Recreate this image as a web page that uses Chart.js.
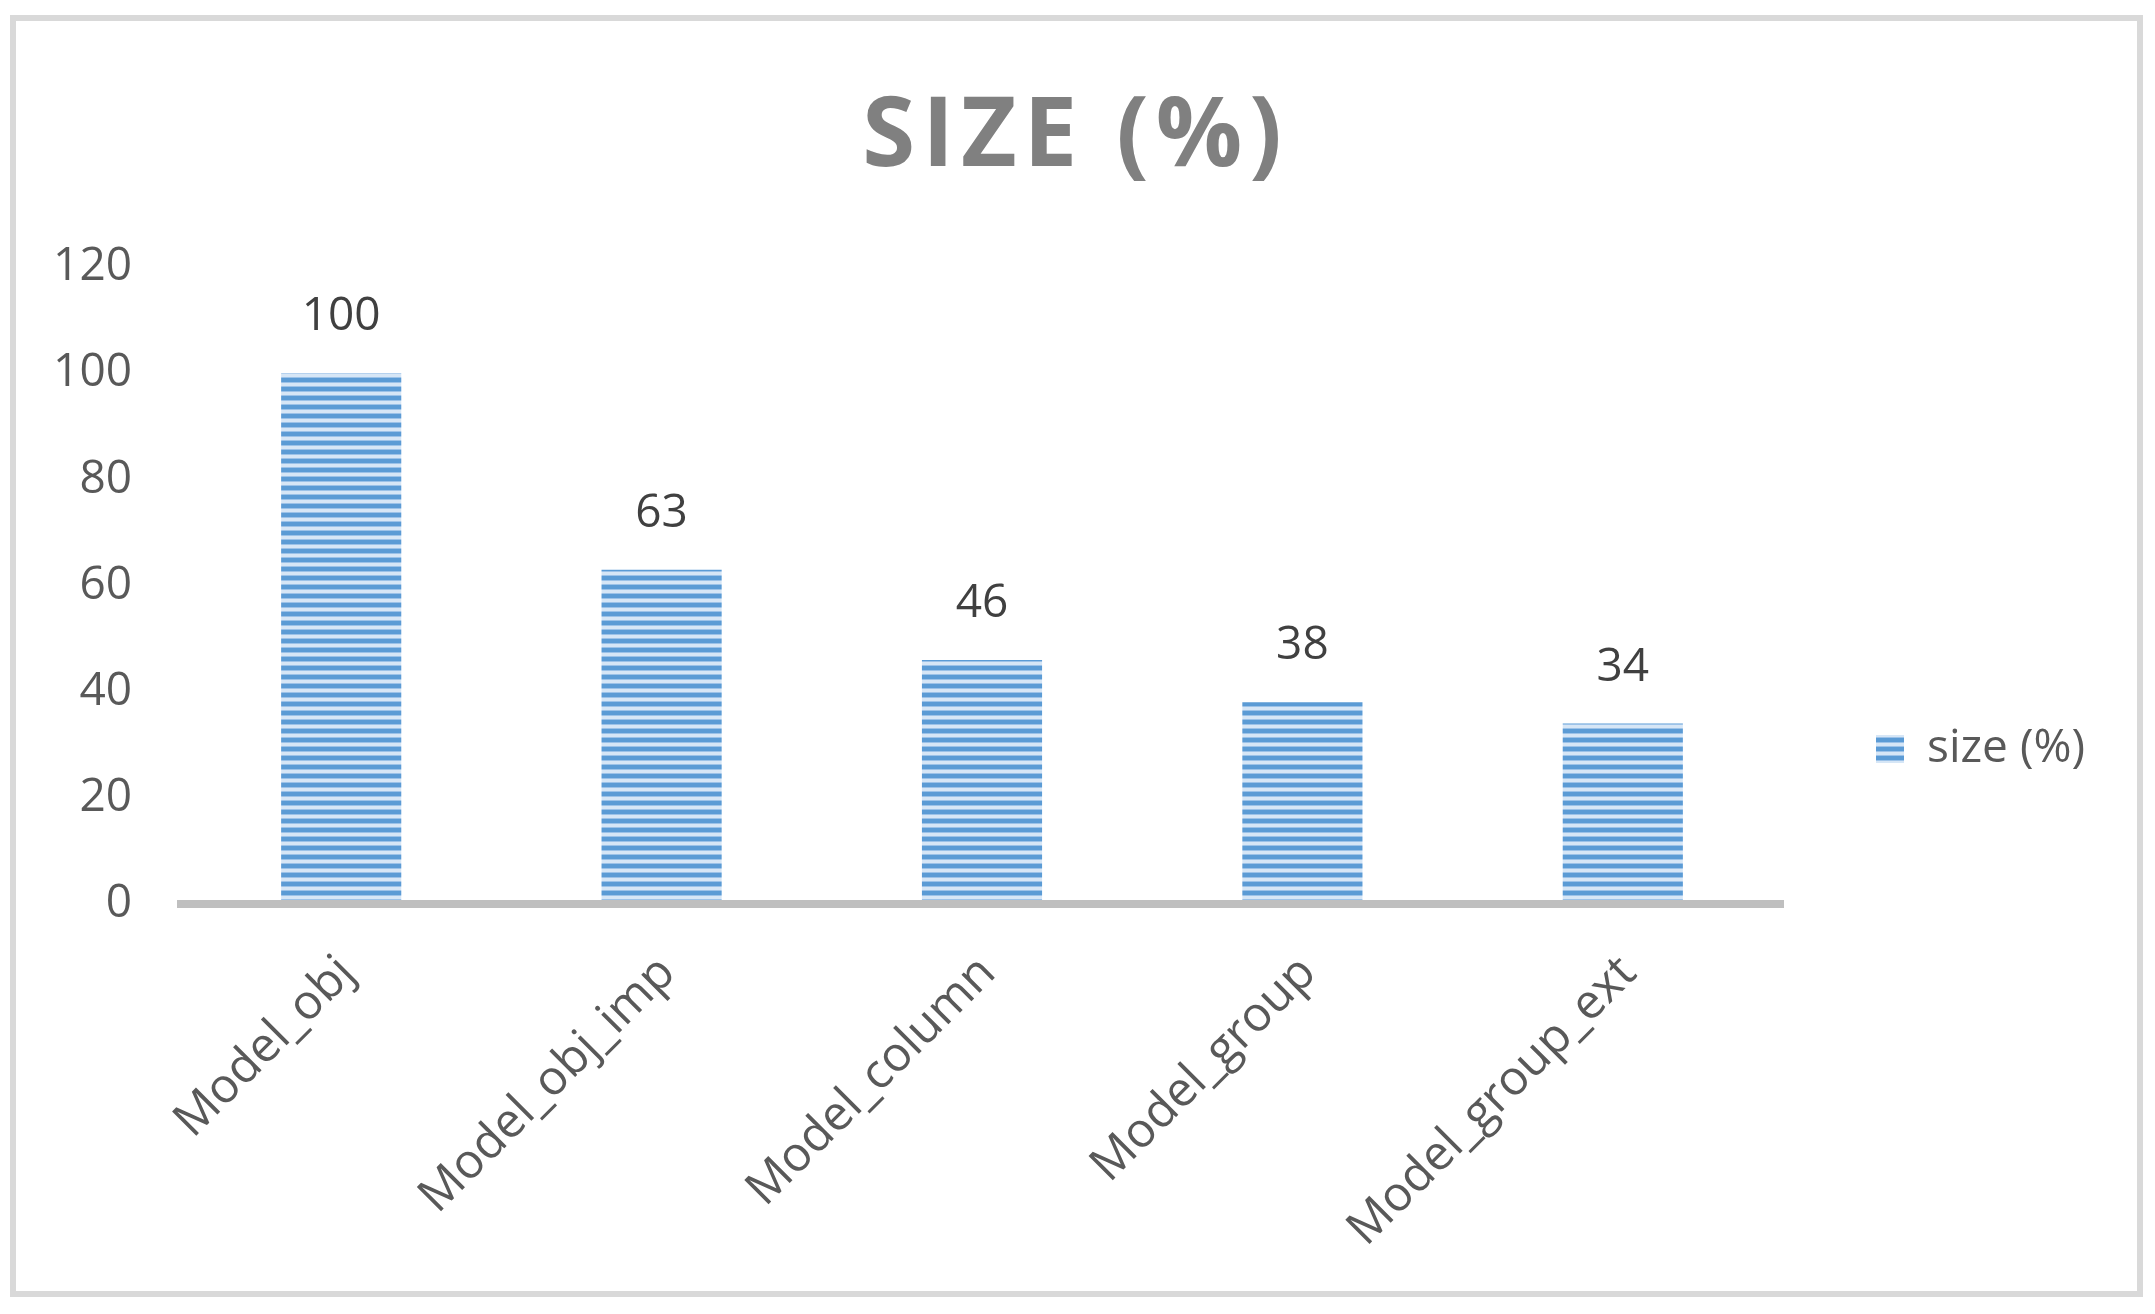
<!DOCTYPE html>
<html><head><meta charset="utf-8">
<script src="https://cdn.jsdelivr.net/npm/chart.js@4/dist/chart.umd.min.js"></script>
<style>
html,body{margin:0;padding:0;background:#fff;}
#wrap{position:relative;width:2155px;height:1314px;overflow:hidden;background:#fff;}
#frame{position:absolute;left:10px;top:15px;width:2121px;height:1270px;border:6px solid #d9d9d9;pointer-events:none;}
canvas{position:absolute;left:0;top:0;}
</style></head><body>
<div id="wrap"><canvas id="c" width="2155" height="1314"></canvas><div id="frame"></div></div>
<script>
const categories = ['Model_obj', 'Model_obj_imp', 'Model_column', 'Model_group', 'Model_group_ext'];
const sizeValues = [100, 63, 46, 38, 34];
const seriesLabel = 'size (%)';
const chartTitle = 'SIZE (%)';
const yTicks = [0, 20, 40, 60, 80, 100, 120];

const FONT = "'Open Sans', 'DejaVu Sans', sans-serif";
Chart.defaults.font.family = FONT;

const canvas = document.getElementById('c');
const ctx0 = canvas.getContext('2d');

function stripePattern() {
  const p = document.createElement('canvas');
  p.width = 8; p.height = 9;
  const g = p.getContext('2d');
  g.fillStyle = '#5b9bd5'; g.fillRect(0, 0, 8, 9);
  g.fillStyle = '#9cc2e8'; g.fillRect(0, 4, 8, 1); g.fillRect(0, 8, 8, 1);
  g.fillStyle = '#d6e6f6'; g.fillRect(0, 5, 8, 3);
  return ctx0.createPattern(p, 'repeat');
}
const pattern = stripePattern();

const valueLabels = {
  id: 'valueLabels',
  afterDatasetsDraw(chart) {
    const ctx = chart.ctx;
    const meta = chart.getDatasetMeta(0);
    ctx.save();
    ctx.font = "46px " + FONT;
    ctx.fillStyle = '#404040';
    ctx.textAlign = 'center';
    ctx.textBaseline = 'middle';
    meta.data.forEach((bar, i) => {
      ctx.fillText(String(chart.data.datasets[0].data[i]), bar.x, bar.y - 56);
    });
    ctx.restore();
  }
};

const chart = new Chart(canvas, {
  type: 'bar',
  data: {
    labels: categories,
    datasets: [{
      label: seriesLabel,
      data: sizeValues,
      backgroundColor: pattern,
      borderWidth: 0,
      barPercentage: 0.375,
      categoryPercentage: 1.0
    }]
  },
  options: {
    responsive: false,
    animation: false,
    devicePixelRatio: 1,
    layout: { padding: { left: 20, right: 60, top: 20, bottom: 20 } },
    plugins: {
      tooltip: { enabled: false },
      title: {
        display: true,
        text: chartTitle,
        color: '#808080',
        font: { size: 96, weight: 'bold', family: FONT, lineHeight: 1.2 },
        padding: { top: 61, bottom: 71 }
      },
      legend: {
        display: true,
        position: 'right',
        align: 'center',
        maxWidth: 312,
        title: { display: true, text: ' ', font: { size: 10 }, padding: { top: 172, bottom: 0 } },
        labels: {
          boxWidth: 28,
          boxHeight: 28,
          padding: 93,
          color: '#595959',
          font: { size: 46, family: FONT }
        }
      }
    },
    scales: {
      x: {
        z: 1,
        grid: { display: false, drawTicks: false },
        border: { display: true, color: '#bfbfbf', width: 8, z: 1 },
        ticks: {
          color: '#595959',
          font: { size: 48, family: FONT },
          minRotation: 45,
          maxRotation: 45,
          autoSkip: false,
          padding: 41,
          labelOffset: 6
        },
        afterFit(scale) { scale.height = 390; }
      },
      y: {
        min: 0,
        max: 120,
        grid: { display: false, drawTicks: false },
        border: { display: false },
        ticks: {
          stepSize: 20,
          color: '#595959',
          font: { size: 46, family: FONT },
          padding: 49
        },
        afterBuildTicks(scale) { scale.ticks = yTicks.map(v => ({ value: v })); },
        afterFit(scale) { scale.width = 161; }
      }
    }
  },
  plugins: [valueLabels]
});

if (chart.titleBlock) {
  const tb = chart.titleBlock;
  const origDraw = tb.draw.bind(tb);
  tb.draw = function () {
    const c = chart.ctx;
    c.save();
    try { c.letterSpacing = '7px'; } catch (e) {}
    const center = (tb.left + tb.right) / 2;
    c.translate(1072 - center + 3.5, 0);
    origDraw();
    c.restore();
  };
  chart.draw();
}
</script>
</body></html>
